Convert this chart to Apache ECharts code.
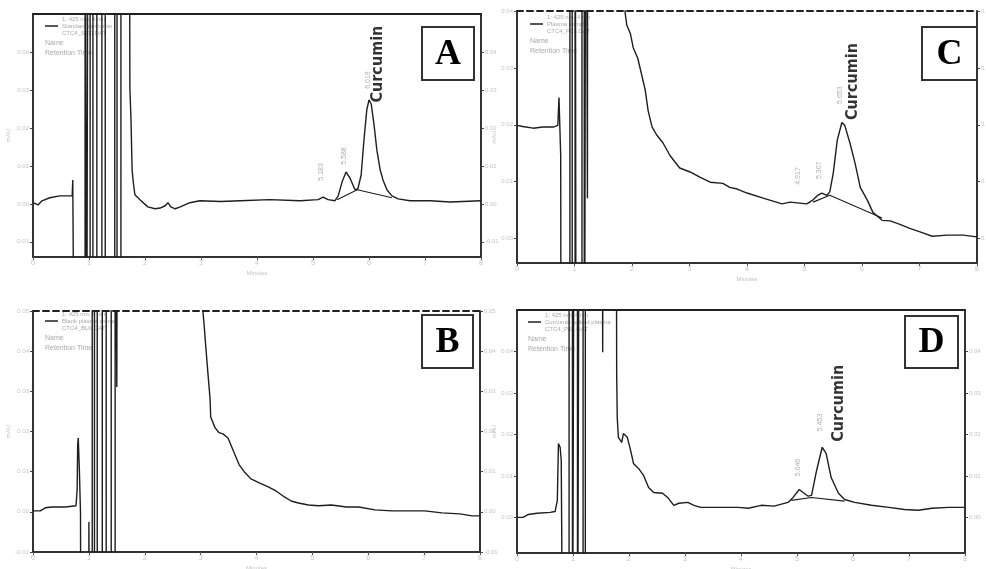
<!DOCTYPE html>
<html>
<head>
<meta charset="utf-8">
<script src="https://cdn.jsdelivr.net/npm/echarts@6/dist/echarts.min.js"></script>
<style>
  html, body { margin: 0; padding: 0; background: #fff; }
  #chart { width: 986px; height: 569px; }
</style>
</head>
<body>
<div id="chart"></div>
<script>
// retention time (min), signal (mAU)
// -60 / 100 are off-scale values (solvent front runs off the plot)
var traceA = [[0,0.3],[0.09,-0.3],[0.16,0.8],[0.30,1.6],[0.48,2.1],[0.70,2.1],[0.71,6.3],[0.73,5.8],
  [0.74,-60],[0.93,-60],[0.93,100],[0.96,100],[0.96,-60],[0.98,-60],[0.98,100],[1.02,100],[1.02,-60],
  [1.07,-60],[1.07,100],[1.14,100],[1.14,-60],[1.23,-60],[1.23,100],[1.29,100],[1.29,-60],[1.46,-60],
  [1.46,100],[1.50,100],[1.50,-60],[1.57,-60],[1.57,100],[1.72,100],
  [1.73,30.5],[1.75,22.1],[1.77,8.9],[1.79,5.8],[1.82,2.4],[1.91,1.1],[2.05,-0.8],[2.18,-1.3],[2.27,-1.1],
  [2.36,-0.5],[2.41,0.3],[2.46,-0.8],[2.54,-1.3],[2.63,-0.8],[2.80,0.3],[2.98,0.8],[3.35,0.6],[3.70,0.8],
  [4.23,1.1],[4.77,0.8],[5.09,1.1],[5.18,1.8],[5.27,1.1],[5.39,0.8],[5.45,2.1],[5.52,5.8],[5.59,8.4],
  [5.66,6.8],[5.75,3.7],[5.80,3.9],[5.86,7.6],[5.91,16.8],[5.96,24.7],[6.0,27.4],[6.04,26.3],[6.09,20.8],
  [6.14,14.2],[6.20,8.9],[6.25,6.3],[6.32,3.7],[6.41,2.1],[6.52,1.3],[6.73,0.8],[7.09,0.8],[7.45,0.5],[8.0,0.8]];
var baseA = [[5.43,1.1],[5.79,3.7],[6.41,1.6]];

var traceB = [[0,0.25],[0.13,0.25],[0.22,1.0],[0.34,1.2],[0.58,1.2],[0.77,1.5],[0.79,5.5],[0.80,16.7],
  [0.81,18.4],[0.83,10.4],[0.85,-0.2],[0.86,-60],[1.0,-60],[1.0,-2.5],[1.02,-2.5],[1.02,-60],[1.06,-60],
  [1.06,100],[1.10,100],[1.10,-60],[1.15,-60],[1.15,100],[1.24,100],[1.24,-60],[1.31,-60],[1.31,100],
  [1.40,100],[1.40,-60],[1.47,-60],[1.47,100],[1.49,100],[1.50,31.1],[1.51,100],[3.03,100],
  [3.04,50],[3.06,47],[3.09,41.5],[3.13,34.6],[3.17,27.9],[3.18,23.6],[3.26,20.9],[3.33,19.7],[3.40,19.4],
  [3.49,18.4],[3.60,14.7],[3.69,11.7],[3.78,10.0],[3.90,8.2],[4.05,7.2],[4.21,6.2],[4.35,5.2],[4.50,3.7],
  [4.62,2.7],[4.75,2.2],[4.93,1.7],[5.11,1.5],[5.34,1.7],[5.61,1.2],[5.83,1.2],[6.12,0.5],[6.42,0.25],
  [6.73,0.25],[7.01,0.25],[7.32,-0.25],[7.64,-0.5],[7.86,-1.0],[8.0,-1.0]];

var traceC = [[0,19.9],[0.10,19.7],[0.28,19.4],[0.45,19.6],[0.63,19.6],[0.71,19.9],[0.73,24.8],[0.75,24.8],
  [0.76,14.6],[0.77,-60],[0.92,-60],[0.92,100],[0.96,100],[0.96,-60],[1.01,-60],[1.01,100],[1.03,100],
  [1.03,-60],[1.13,-60],[1.13,100],[1.17,100],[1.17,-60],[1.20,-60],[1.20,100],[1.22,100],[1.225,7.1],
  [1.23,100],[1.87,100],
  [1.88,39.7],[1.91,37.5],[1.97,36.1],[2.02,33.6],[2.10,31.7],[2.17,28.7],[2.23,26.1],[2.28,22.5],
  [2.35,19.6],[2.43,18.2],[2.54,16.8],[2.66,14.6],[2.83,12.4],[3.01,11.7],[3.18,10.8],[3.36,9.9],
  [3.58,9.7],[3.70,9.0],[3.83,8.7],[4.0,8.0],[4.28,7.1],[4.61,6.1],[4.75,6.4],[5.04,6.1],[5.15,6.8],
  [5.23,7.6],[5.30,8.0],[5.39,7.6],[5.44,8.2],[5.50,11.5],[5.57,17.3],[5.65,20.4],[5.70,19.9],[5.79,16.8],
  [5.88,13.2],[5.97,9.0],[6.09,6.8],[6.19,4.6],[6.35,3.2],[6.49,3.1],[6.66,2.5],[6.83,1.8],[7.06,1.0],
  [7.22,0.4],[7.48,0.6],[7.76,0.6],[8.0,0.3]];
var baseC = [[5.15,6.4],[5.44,7.6],[6.35,3.6]];

var traceD = [[0,0],[0.11,0],[0.20,0.7],[0.36,1.0],[0.59,1.2],[0.68,1.4],[0.72,4.1],[0.74,17.8],[0.77,16.9],
  [0.79,13.7],[0.80,-6.3],[0.81,-60],[0.93,-60],[0.93,100],[0.99,100],[0.99,-60],[1.02,-60],[1.02,100],
  [1.08,100],[1.08,-60],[1.11,-60],[1.11,100],[1.18,100],[1.18,-60],[1.22,-60],[1.22,100],[1.52,100],
  [1.53,39.8],[1.54,100],[1.77,100],
  [1.78,34.7],[1.79,24.1],[1.81,19.3],[1.87,18.1],[1.90,20.2],[1.97,19.3],[2.03,16.1],[2.08,13.0],
  [2.17,11.8],[2.26,10.1],[2.35,7.2],[2.44,6.0],[2.60,5.8],[2.69,4.8],[2.80,2.9],[2.89,3.4],[3.05,3.6],
  [3.16,2.9],[3.28,2.4],[3.59,2.4],[3.95,2.4],[4.13,2.2],[4.36,2.9],[4.59,2.7],[4.84,3.6],[4.93,4.8],
  [5.04,6.7],[5.11,6.0],[5.20,5.1],[5.26,5.3],[5.35,11.3],[5.45,16.9],[5.52,15.4],[5.61,9.6],[5.74,5.8],
  [5.85,4.3],[6.03,3.6],[6.33,2.9],[6.64,2.4],[6.92,1.9],[7.17,1.7],[7.41,2.2],[7.71,2.4],[7.98,2.4]];
var baseD = [[4.90,4.1],[5.26,4.8],[5.85,3.9]];

// peak annotations [time, signal, text]
var peaksA = [[5.14,8.4,'5.183'],[5.55,12.6,'5.588'],[5.98,32.6,'6.019']];
var peaksC = [[4.89,11.0,'4.917'],[5.25,12.0,'5.307'],[5.62,25.2,'5.653']];
var peaksD = [[5.02,12.0,'5.046'],[5.42,22.9,'5.453']];
var curcuminA = [6.16,36.8];
var curcuminC = [5.84,27.6];
var curcuminD = [5.74,27.5];

var xTicks = [0,1,2,3,4,5,6,7,8];
var yTicksA = [-10,0,10,20,30,40];
var yTicksB = [-10,0,10,20,30,40,50];
var yTicksC = [0,10,20,30,40];
var yTicksD = [0,10,20,30,40];

var chart = echarts.init(document.getElementById('chart'));

var faint = '#c4c4c4';
var ink = '#1e1e1e';

function bottomX(g) {
    return {
        gridIndex: g, type: 'value', min: 0, max: 8, position: 'bottom',
        name: 'Minutes', nameLocation: 'middle', nameGap: 13,
        nameTextStyle: { color: faint, fontSize: 6 },
        axisLine: { onZero: false, lineStyle: { color: '#333', width: 2 } },
        axisTick: { length: 3, customValues: xTicks, lineStyle: { color: '#555' } },
        axisLabel: { color: faint, fontSize: 7, margin: 3, customValues: xTicks },
        splitLine: { show: false }
    };
}
function topX(g, dashed) {
    return {
        gridIndex: g, type: 'value', min: 0, max: 8, position: 'top',
        axisLine: { onZero: false, lineStyle: { color: '#222', width: 2, type: dashed ? [6, 4] : 'solid' } },
        axisTick: { show: false }, axisLabel: { show: false }, splitLine: { show: false }
    };
}
function sideY(g, pos, min, max, ticks) {
    return {
        gridIndex: g, type: 'value', min: min, max: max, position: pos,
        name: pos == 'left' ? 'mAU' : '', nameLocation: 'middle', nameGap: 20,
        nameTextStyle: { color: faint, fontSize: 6 },
        axisLine: { show: true, onZero: false, lineStyle: { color: '#333', width: 2 } },
        axisTick: { show: true, length: 3, customValues: ticks, lineStyle: { color: '#444' } },
        axisLabel: {
            color: faint, fontSize: 6, margin: 4, customValues: ticks,
            formatter: function (v) { return (v / 1000).toFixed(2); }
        },
        splitLine: { show: false }
    };
}
function trace(i, data, w) {
    return {
        type: 'line', xAxisIndex: i * 2, yAxisIndex: i * 2, data: data,
        showSymbol: false, symbol: 'none', clip: true,
        lineStyle: { color: ink, width: w || 1.4 }
    };
}
function notes(i, list, big) {
    var data = list.map(function (p) { return { value: [p[0], p[1]], name: p[2] }; });
    return {
        type: 'scatter', xAxisIndex: i * 2, yAxisIndex: i * 2, symbolSize: 1,
        itemStyle: { color: 'rgba(0,0,0,0)' }, data: data,
        label: {
            show: true, position: 'inside', rotate: 90, formatter: '{b}',
            color: big ? '#000' : '#9a9a9a',
            fontSize: big ? 16 : 7,
            fontWeight: big ? 'bold' : 'normal',
            fontFamily: big ? '"DejaVu Sans Condensed", "Liberation Sans", sans-serif' : 'sans-serif'
        }
    };
}
function box(x, y, w, h, letter) {
    return [
        { type: 'rect', shape: { x: x, y: y, width: w, height: h }, style: { fill: '#fff', stroke: '#333', lineWidth: 2 }, z: 10 },
        { type: 'text', x: x + w / 2, y: y + h / 2 + 1, z: 11,
          style: { text: letter, fill: '#000', font: 'bold 36px "Liberation Serif", serif', align: 'center', verticalAlign: 'middle' } }
    ];
}
function legend(x, y, l2, l3) {
    var f = '6px sans-serif';
    return [
        { type: 'text', x: x + 17, y: y - 3, style: { text: '1: 425 nm, 4 nm', fill: '#aaa', font: f } },
        { type: 'line', shape: { x1: x, y1: y + 7, x2: x + 13, y2: y + 7 }, style: { stroke: '#222', lineWidth: 1.5 } },
        { type: 'text', x: x + 17, y: y + 4, style: { text: l2, fill: '#aaa', font: f } },
        { type: 'text', x: x + 17, y: y + 11, style: { text: l3, fill: '#aaa', font: f } },
        { type: 'text', x: x, y: y + 21, style: { text: 'Name', fill: '#aaa', font: '7px sans-serif' } },
        { type: 'text', x: x, y: y + 31, style: { text: 'Retention Time', fill: '#aaa', font: '7px sans-serif' } }
    ];
}

var graphics = []
    .concat(box(422, 27, 52, 53, 'A'))
    .concat(box(422, 315, 51, 53, 'B'))
    .concat(box(922, 27, 55, 53, 'C'))
    .concat(box(905, 316, 53, 52, 'D'))
    .concat(legend(45, 19, 'Standard curcumin', 'CTC4_STD.DAT'))
    .concat(legend(45, 314, 'Blank plasma extract', 'CTC4_BLK.DAT'))
    .concat(legend(530, 17, 'Plasma sample', 'CTC4_P01.DAT'))
    .concat(legend(528, 315, 'Curcumin spiked plasma', 'CTC4_P02.DAT'));

var option = {
    animation: false,
    backgroundColor: '#fff',
    grid: [
        { left: 33, top: 14, width: 448, height: 243, outerBoundsMode: 'none' },
        { left: 33, top: 311, width: 447, height: 241, outerBoundsMode: 'none' },
        { left: 517, top: 11, width: 460, height: 252, outerBoundsMode: 'none' },
        { left: 517, top: 310, width: 448, height: 243, outerBoundsMode: 'none' }
    ],
    xAxis: [
        bottomX(0), topX(0, false),
        bottomX(1), topX(1, true),
        bottomX(2), topX(2, true),
        bottomX(3), topX(3, false)
    ],
    yAxis: [
        sideY(0, 'left', -14, 50, yTicksA), sideY(0, 'right', -14, 50, yTicksA),
        sideY(1, 'left', -10, 50, yTicksB), sideY(1, 'right', -10, 50, yTicksB),
        sideY(2, 'left', -4.3, 40, yTicksC), sideY(2, 'right', -4.3, 40, yTicksC),
        sideY(3, 'left', -8.6, 50, yTicksD), sideY(3, 'right', -8.6, 50, yTicksD)
    ],
    series: [
        trace(0, traceA), trace(0, baseA, 1.1),
        trace(1, traceB),
        trace(2, traceC), trace(2, baseC, 1.1),
        trace(3, traceD), trace(3, baseD, 1.1),
        notes(0, peaksA), notes(0, [[curcuminA[0], curcuminA[1], 'Curcumin']], true),
        notes(2, peaksC), notes(2, [[curcuminC[0], curcuminC[1], 'Curcumin']], true),
        notes(3, peaksD), notes(3, [[curcuminD[0], curcuminD[1], 'Curcumin']], true)
    ],
    graphic: graphics
};

chart.setOption(option);
</script>
</body>
</html>
